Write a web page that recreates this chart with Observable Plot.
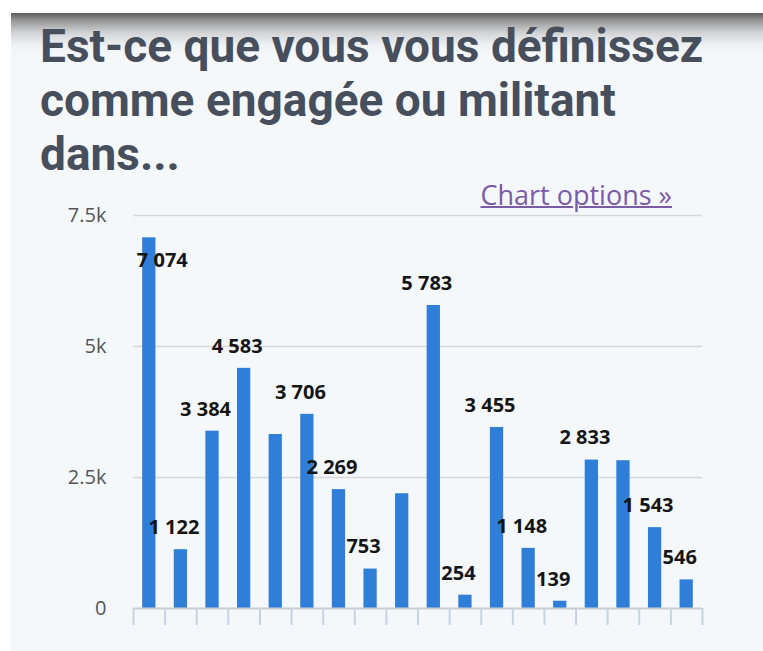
<!DOCTYPE html>
<html>
<head>
<meta charset="utf-8">
<script src="https://cdn.jsdelivr.net/npm/d3@7"></script>
<script src="https://cdn.jsdelivr.net/npm/@observablehq/plot@0.6"></script>
<style>
  html, body { margin: 0; padding: 0; background: #fff; }
  body { width: 763px; height: 651px; position: relative; overflow: hidden; }
  #panel {
    position: absolute; left: 11px; top: 13px; right: 0; bottom: 0;
    background: linear-gradient(to bottom, #5e5e5e 0px, #9a9a9a 8px, #d2d4d6 20px, #eef2f5 32px, #f5f8fb 42px, #f5f8fb 100%);
  }
  h1 {
    position: absolute; left: 40px; top: 19px; margin: 0;
    font-family: Roboto, sans-serif; font-weight: 700; font-size: 46px; line-height: 54px;
    color: #474f5d; white-space: nowrap;
  }
  #chart { position: absolute; left: 0; top: 200px; }
  #opts {
    position: absolute; right: 91px; top: 181px;
    font-family: "Open Sans", sans-serif; font-size: 27px; line-height: 27px;
    color: #7b5aa6; text-decoration: underline; text-decoration-thickness: 1.5px;
  }
</style>
</head>
<body>
<div id="panel"></div>
<h1>Est-ce que vous vous définissez<br>comme engagée ou militant<br>dans...</h1>
<div id="chart"></div>
<a id="opts">Chart options »</a>
<script>
// ---- data ----
const categories = ["1","2","3","4","5","6","7","8","9","10","11","12","13","14","15","16","17","18"];
const values = [7074, 1122, 3384, 4583, 3320, 3706, 2269, 753, 2190, 5783, 254, 3455, 1148, 139, 2833, 2820, 1543, 546];
const showLabel = [true, true, true, true, false, true, true, true, false, true, true, true, true, true, true, false, true, true];
const yTicks = [0, 2500, 5000, 7500];
const yTickLabels = ["0", "2.5k", "5k", "7.5k"];

const data = categories.map((c, i) => ({cat: c, value: values[i], label: showLabel[i]}));
const fr = d3.formatLocale({decimal: ",", thousands: " ", grouping: [3], currency: ["", " €"]});
const fmt = fr.format(",d");

const W = 763, H = 450;
const mL = 133, mR = 61, mT = 15, mB = 42;
const step = (W - mL - mR) / categories.length;
const labeled = data.filter(d => d.label);
const inside = d => d.value > 7000;

const chart = Plot.plot({
  width: W, height: H,
  marginLeft: mL, marginRight: mR, marginTop: mT, marginBottom: mB,
  style: {fontFamily: "Open Sans, sans-serif", background: "transparent", overflow: "visible"},
  x: {type: "band", domain: categories, paddingInner: 0.58, paddingOuter: 0.29, round: false, axis: null, label: null},
  y: {domain: [0, 7500], axis: null, label: null},
  marks: [
    Plot.ruleY(yTicks.filter(t => t > 0), {stroke: "#d8d8d8", strokeWidth: 1.5}),
    Plot.axisY(yTicks, {
      tickSize: 0, tickPadding: 27, fontSize: 20, fill: "#555", label: null,
      tickFormat: d => yTickLabels[yTicks.indexOf(d)]
    }),
    Plot.barY(data, {x: "cat", y: "value", fill: "#2f7ed8"}),
    Plot.ruleY([0], {stroke: "#c9cdd2", strokeWidth: 2}),
    Plot.axisX(categories, {tickSize: 17, tickFormat: () => "", label: null, dx: -step / 2, stroke: "#c6d3e3", strokeWidth: 2}),
    Plot.axisX([categories[categories.length - 1]], {tickSize: 17, tickFormat: () => "", label: null, dx: step / 2, stroke: "#c6d3e3", strokeWidth: 2}),
    Plot.text(labeled.filter(d => !inside(d)), {
      x: "cat", y: "value", text: d => fmt(d.value),
      dy: -22, dx: -7, fontSize: 20, fontWeight: 700, fill: "#151515"
    }),
    Plot.text(labeled.filter(inside), {
      x: "cat", y: "value", text: d => fmt(d.value),
      dy: 23, dx: 13, fontSize: 20, fontWeight: 700, fill: "#151515"
    })
  ]
});
document.getElementById("chart").appendChild(chart);
</script>
</body>
</html>
